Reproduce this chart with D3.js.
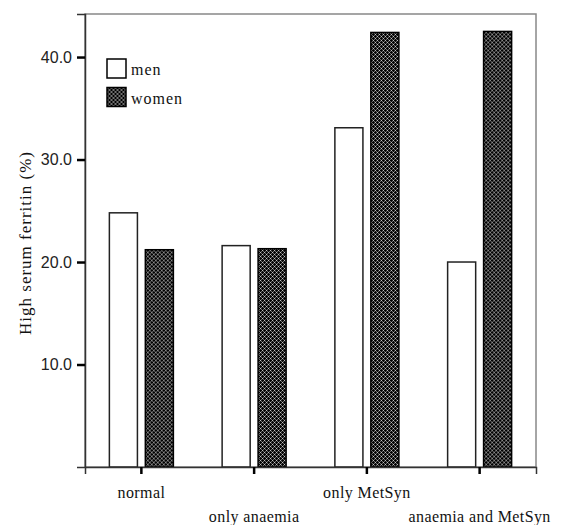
<!DOCTYPE html>
<html>
<head>
  <meta charset="utf-8" />
  <style>
    body { margin: 0; background: #fff; }
  </style>
</head>
<body>
  <svg id="container" width="561" height="525"></svg>
  <script src="https://unpkg.com/d3@7/dist/d3.min.js" charset="utf-8"></script>
<script>
var categories = ['normal', 'only anaemia', 'only MetSyn', 'anaemia and MetSyn'];
var series = ['men', 'women'];
var men = [24.8, 21.6, 33.1, 20.0];
var women = [21.2, 21.3, 42.4, 42.5];
var yTicks = [10, 20, 30, 40];

var margin = {left: 85, top: 14, right: 25, bottom: 58};
var width = 561 - margin.left - margin.right;
var height = 525 - margin.top - margin.bottom;
var serif = '"Liberation Serif", "Times New Roman", serif';
var sans = '"Liberation Sans", Arial, sans-serif';

var svg = d3.select('#container');

// crosshatch fill for women
var pat = svg.append('defs').append('pattern')
  .attr('id', 'hatch')
  .attr('patternUnits', 'userSpaceOnUse')
  .attr('width', 4).attr('height', 4);
pat.append('rect').attr('width', 4).attr('height', 4).attr('fill', '#000');
[[0, 0, '#ddd'], [2, 2, '#ddd'], [1, 1, '#777'], [3, 3, '#777'], [1, 3, '#777'], [3, 1, '#777']]
  .forEach(function (p) {
    pat.append('rect').attr('x', p[0]).attr('y', p[1])
      .attr('width', 1).attr('height', 1).attr('fill', p[2]);
  });

var g = svg.append('g').attr('transform', 'translate(' + margin.left + ',' + margin.top + ')');

var x = d3.scaleBand().domain(categories).range([0, width]);
var x1 = d3.scaleBand().domain(series).range([0, 64]).paddingInner(0.22);
var y = d3.scaleLinear().domain([0, 44.2]).range([height, 0]);

// frame
g.append('rect')
  .attr('width', width).attr('height', height)
  .attr('fill', 'none').attr('stroke', '#888').attr('stroke-width', 1.5);

var rows = categories.map(function (c, i) { return {cat: c, men: men[i], women: women[i]}; });

var groups = g.selectAll('.grp').data(rows).enter().append('g')
  .attr('transform', function (d) { return 'translate(' + (x(d.cat) + x.bandwidth() / 2 - 32) + ',0)'; });

groups.selectAll('rect').data(function (d) {
  return series.map(function (s) { return {key: s, value: d[s]}; });
}).enter().append('rect')
  .attr('x', function (d) { return x1(d.key); })
  .attr('width', x1.bandwidth())
  .attr('y', function (d) { return y(d.value); })
  .attr('height', function (d) { return height - y(d.value); })
  .attr('fill', function (d) { return d.key === 'men' ? '#fff' : 'url(#hatch)'; })
  .attr('stroke', function (d) { return d.key === 'men' ? '#222' : '#000'; })
  .attr('stroke-width', 1.5);

// y axis
var yAxis = g.append('g')
  .call(d3.axisLeft(y).tickValues(yTicks).tickSize(8).tickPadding(5).tickFormat(d3.format('.1f')));
yAxis.select('.domain').attr('stroke', '#333').attr('stroke-width', 1.5);
yAxis.selectAll('.tick line').attr('stroke', '#000').attr('stroke-width', 2.5);
yAxis.selectAll('.tick text')
  .style('font-family', sans).style('font-size', '16px').attr('fill', '#222');

// x axis
var xAxis = g.append('g').attr('transform', 'translate(0,' + height + ')')
  .call(d3.axisBottom(x).tickSize(7).tickPadding(0));
xAxis.select('.domain').attr('stroke', '#333').attr('stroke-width', 1.5);
xAxis.selectAll('.tick line').attr('stroke', '#000').attr('stroke-width', 2.5);
xAxis.selectAll('.tick text')
  .style('font-family', serif).style('font-size', '16px').style('letter-spacing', '0.4px')
  .attr('fill', '#111')
  .attr('y', function (d, i) { return i % 2 ? 55 : 31; })
  .attr('dy', 0);

// y title
svg.append('text')
  .style('font-family', serif).style('font-size', '17px').style('letter-spacing', '1px')
  .attr('fill', '#111')
  .attr('transform', 'translate(31,' + 243 + ') rotate(-90)')
  .attr('text-anchor', 'middle')
  .text('High serum ferritin (%)');

// legend
var legend = g.selectAll('.leg').data(series).enter().append('g')
  .attr('transform', function (d, i) { return 'translate(22,' + (45 + i * 28.5) + ')'; });
legend.append('rect')
  .attr('width', 19).attr('height', 19)
  .attr('fill', function (d) { return d === 'men' ? '#fff' : 'url(#hatch)'; })
  .attr('stroke', '#000').attr('stroke-width', 1.5);
legend.append('text')
  .style('font-family', serif).style('font-size', '16px').style('letter-spacing', '1px')
  .attr('fill', '#111')
  .attr('x', 24).attr('y', 16)
  .text(function (d) { return d; });
</script>
</body>
</html>
